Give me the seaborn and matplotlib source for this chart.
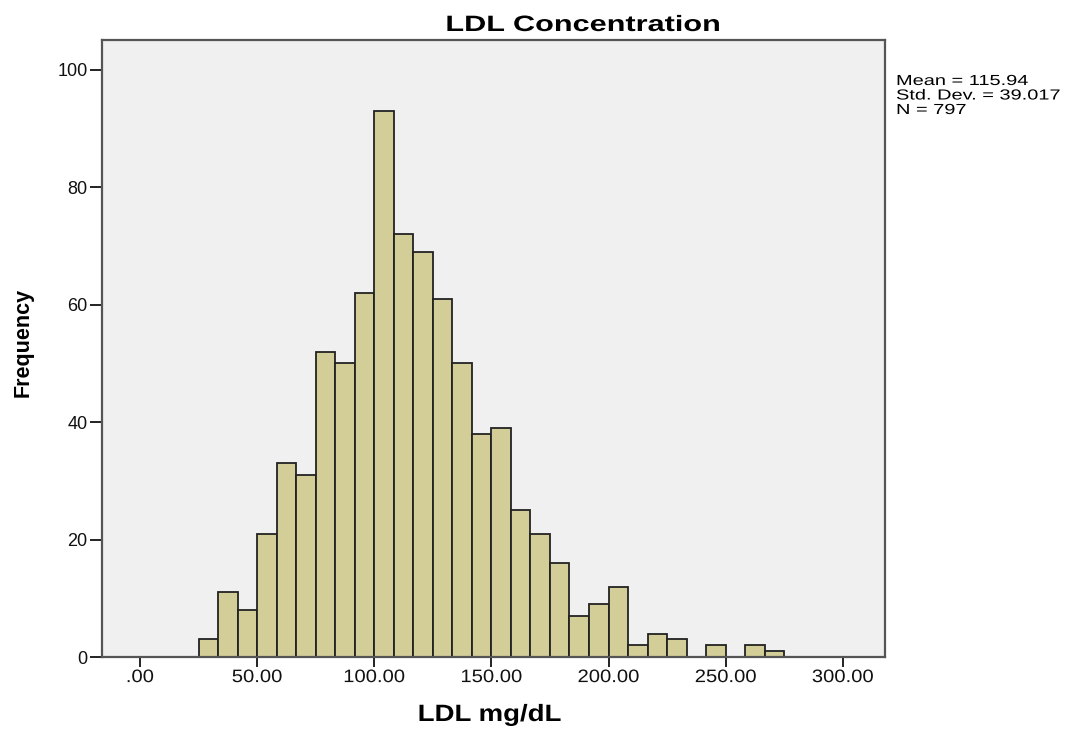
import numpy as np
import pandas as pd
import matplotlib
matplotlib.use("Agg")
import matplotlib.pyplot as plt
import matplotlib.patheffects as pe
from matplotlib.transforms import Affine2D
import seaborn as sns

# Histogram of LDL concentration: 30 bins of width 25/3 from 25 to 275 mg/dL
bin_edges = list(np.linspace(25, 275, 31))
counts = [3, 11, 8, 21, 33, 31, 52, 50, 62, 93,
          72, 69, 61, 50, 38, 39, 25, 21, 16, 7,
          9, 12, 2, 4, 3, 0, 2, 0, 2, 1]
x_ticks = [0, 50, 100, 150, 200, 250, 300]
x_tick_labels = [".00", "50.00", "100.00", "150.00", "200.00", "250.00", "300.00"]
y_ticks = [0, 20, 40, 60, 80, 100]
stats_lines = ["Mean = 115.94", "Std. Dev. = 39.017", "N = 797"]

centers = [(a + b) / 2 for a, b in zip(bin_edges[:-1], bin_edges[1:])]
df = pd.DataFrame({"ldl": centers, "count": counts})


class WideText(pe.AbstractPathEffect):
    """Widen glyphs horizontally about the left edge or the centre of each line."""

    def __init__(self, sx, anchor="center"):
        super().__init__()
        self.sx = sx
        self.anchor = anchor

    def draw_path(self, renderer, gc, tpath, affine, rgbFace=None):
        ext = tpath.get_extents()
        if self.anchor == "center":
            cx = (ext.x0 + ext.x1) / 2
        elif self.anchor == "right":
            cx = ext.x1
        else:
            cx = 0.0
        t = Affine2D().translate(-cx, 0).scale(self.sx, 1).translate(cx, 0) + affine
        renderer.draw_path(gc, tpath, t, rgbFace)


sns.set_style("white")
plt.rcParams["font.family"] = ["Liberation Sans", "DejaVu Sans"]
plt.rcParams["text.color"] = "black"
plt.rcParams["xtick.color"] = "#222222"
plt.rcParams["ytick.color"] = "#222222"

W, H = 1071, 729
fig = plt.figure(figsize=(W / 100, H / 100), dpi=100)
ax = fig.add_axes([102 / W, 1 - 657 / H, (885 - 102) / W, (657 - 40) / H])
ax.set_facecolor("#f0f0f0")

sns.histplot(data=df, x="ldl", weights="count", bins=bin_edges, ax=ax,
             color="#d3ce97", alpha=1.0, edgecolor="#222222", linewidth=1.3)

ax.set_xlim(-16.2, 318)
ax.set_ylim(0, 105.1)
ax.set_xticks(x_ticks)
ax.set_xticklabels(x_tick_labels)
ax.set_yticks(y_ticks)
ax.tick_params(axis="x", direction="out", length=7.2, width=1.4,
               labelsize=13, labelcolor="#111111", pad=1.5, bottom=True)
ax.tick_params(axis="y", direction="out", length=8.5, width=1.4,
               labelsize=13, labelcolor="#111111", pad=2, left=True)
for lab in ax.get_xticklabels():
    lab.set_path_effects([WideText(1.12, "center")])
for s in ax.spines.values():
    s.set_color("#555555")
    s.set_linewidth(1.6)
    s.set_visible(True)

ax.set_xlabel("")
ax.set_ylabel("")

fig.text(583 / W, 1 - 31 / H, "LDL Concentration", ha="center", va="baseline",
         fontsize=16, fontweight="bold", path_effects=[WideText(1.38, "center")])
fig.text(490 / W, 1 - 721 / H, "LDL mg/dL", ha="center", va="baseline",
         fontsize=17, fontweight="bold", path_effects=[WideText(1.17, "center")])
fig.text(23 / W, 1 - 342 / H, "Frequency", ha="center", va="center",
         rotation=90, fontsize=15.5, fontweight="bold")
for i, line in enumerate(stats_lines):
    fig.text(896 / W, 1 - (85 + 14.5 * i) / H, line, ha="left", va="baseline",
             fontsize=10.5, path_effects=[WideText(1.37, "left")])

fig.savefig("out.png", dpi=100, facecolor="white")
